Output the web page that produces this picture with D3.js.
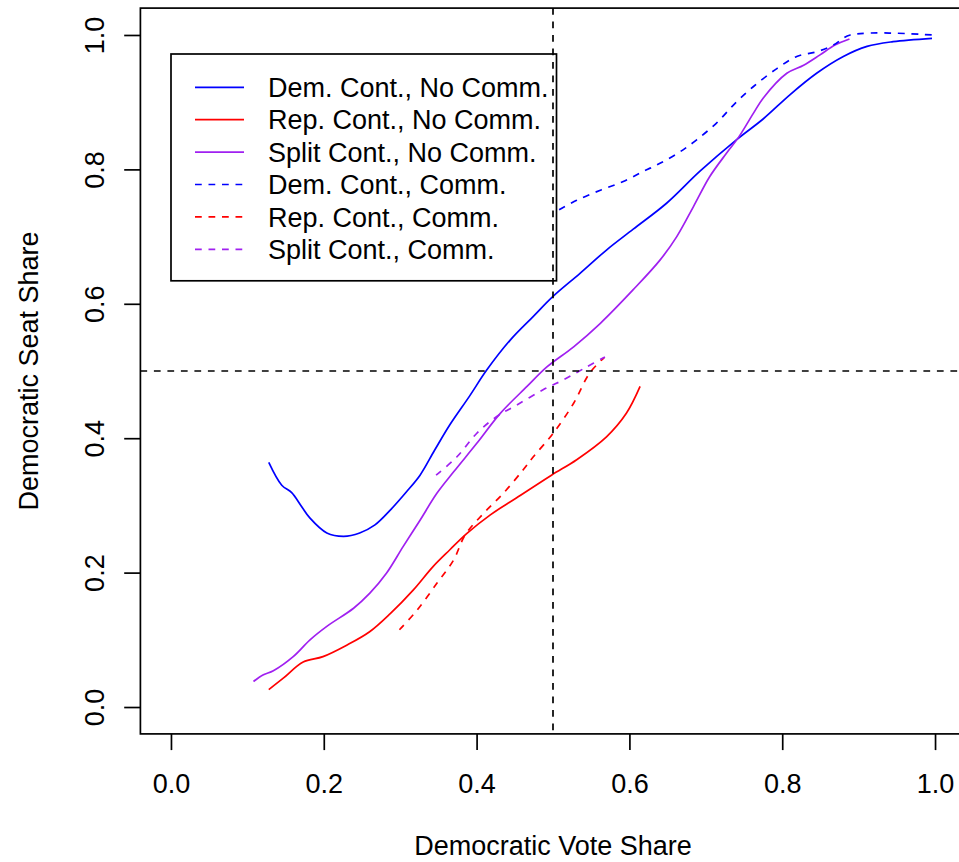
<!DOCTYPE html>
<html>
<head>
<meta charset="utf-8">
<script src="https://cdn.jsdelivr.net/npm/d3@7"></script>
<style>
    body { margin: 0; background: #fff; }
    svg text { font-family: "Liberation Sans", Arial, Helvetica, sans-serif; fill: #000; }
</style>
</head>
<body>
<div class="chart"></div>
<script>
// series data, [vote share, seat share]
const demNoComm = [[0.128,0.364],[0.145,0.330],[0.158,0.319],[0.170,0.300],[0.182,0.281],[0.204,0.259],[0.226,0.254],
    [0.247,0.259],[0.267,0.271],[0.287,0.293],[0.308,0.320],[0.326,0.345],[0.345,0.382],[0.365,0.420],[0.391,0.463],
    [0.413,0.501],[0.444,0.546],[0.474,0.581],[0.500,0.611],[0.535,0.645],[0.570,0.680],[0.605,0.711],[0.649,0.750],
    [0.692,0.797],[0.740,0.844],[0.775,0.875],[0.810,0.911],[0.845,0.943],[0.880,0.968],[0.911,0.983],
    [0.945,0.990],[0.996,0.995]];
const repNoComm = [[0.128,0.026],[0.147,0.043],[0.173,0.067],[0.199,0.075],[0.230,0.092],[0.260,0.112],[0.287,0.139],
    [0.317,0.174],[0.343,0.209],[0.365,0.234],[0.387,0.258],[0.418,0.286],[0.452,0.311],[0.498,0.345],[0.531,0.368],
    [0.570,0.402],[0.596,0.437],[0.614,0.477]];
const splitNoComm = [[0.108,0.038],[0.121,0.048],[0.134,0.054],[0.160,0.075],[0.182,0.100],[0.204,0.120],[0.239,0.147],
    [0.260,0.169],[0.282,0.199],[0.304,0.239],[0.326,0.278],[0.348,0.318],[0.370,0.350],[0.400,0.392],[0.431,0.437],
    [0.466,0.477],[0.492,0.506],[0.527,0.536],[0.562,0.571],[0.605,0.621],[0.640,0.665],[0.662,0.700],[0.684,0.745],
    [0.705,0.789],[0.727,0.824],[0.743,0.848],[0.762,0.883],[0.775,0.906],[0.806,0.943],[0.828,0.955],[0.849,0.970],
    [0.869,0.985],[0.888,0.994]];
const demComm = [[0.508,0.740],[0.531,0.754],[0.562,0.769],[0.592,0.782],[0.618,0.797],[0.640,0.809],[0.666,0.826],
    [0.688,0.844],[0.714,0.869],[0.738,0.898],[0.762,0.923],[0.793,0.950],[0.819,0.968],[0.845,0.975],[0.867,0.985],
    [0.889,1.0],[0.996,1.0]];
const repComm = [[0.299,0.115],[0.322,0.144],[0.348,0.184],[0.370,0.219],[0.385,0.256],[0.409,0.288],[0.435,0.318],
    [0.461,0.353],[0.474,0.372],[0.500,0.407],[0.527,0.452],[0.548,0.497],[0.567,0.520]];
const splitComm = [[0.347,0.345],[0.374,0.372],[0.400,0.407],[0.426,0.432],[0.452,0.449],[0.487,0.472],[0.514,0.487],
    [0.544,0.506],[0.568,0.521]];

const seriesNames = ["Dem. Cont., No Comm.", "Rep. Cont., No Comm.", "Split Cont., No Comm.",
    "Dem. Cont., Comm.", "Rep. Cont., Comm.", "Split Cont., Comm."];
const seriesData = [demNoComm, repNoComm, splitNoComm, demComm, repComm, splitComm];
const tickValues = [0, 0.2, 0.4, 0.6, 0.8, 1.0];
const refX = 0.5, refY = 0.5;

// styles
const colors = ["#0000ff", "#ff0000", "#a020f0", "#0000ff", "#ff0000", "#a020f0"];
const dashed = [false, false, false, true, true, true];
const lw = 1.7;
const dash = "6.75,6.75";

const width = 959, height = 862;
const plot = {left: 140.4, right: 965.6, top: 8.1, bottom: 733.9};

let svg = d3.select(".chart")
    .append("svg")
    .attr("width", width)
    .attr("height", height);

// scales (R style 4% padding on [0,1])
let xScale = d3.scaleLinear().domain([-0.04, 1.04]).range([plot.left, plot.right]);
let yScale = d3.scaleLinear().domain([-0.04, 1.04]).range([plot.bottom, plot.top]);

let line = d3.line()
    .x(d => xScale(d[0]))
    .y(d => yScale(d[1]))
    .curve(d3.curveCatmullRom);

// curves
svg.append("g").selectAll("path")
    .data(seriesData)
    .enter()
    .append("path")
    .attr("d", d => line(d))
    .attr("fill", "none")
    .attr("stroke", (d, i) => colors[i])
    .attr("stroke-width", lw)
    .attr("stroke-dasharray", (d, i) => dashed[i] ? dash : null);

// x axis
let xAxis = svg.append("g")
    .attr("transform", "translate(0," + plot.bottom + ")")
    .call(d3.axisBottom(xScale).tickValues(tickValues).tickFormat(d3.format(".1f")).tickSize(16.2).tickSizeOuter(0));
xAxis.select(".domain").remove();
xAxis.selectAll("line").attr("stroke-width", lw);
xAxis.selectAll("text").attr("y", 59).attr("dy", null).attr("font-size", 27);

// y axis
let yAxis = svg.append("g")
    .attr("transform", "translate(" + plot.left + ",0)")
    .call(d3.axisLeft(yScale).tickValues(tickValues).tickFormat(d3.format(".1f")).tickSize(16.2).tickSizeOuter(0));
yAxis.select(".domain").remove();
yAxis.selectAll("line").attr("stroke-width", lw);
yAxis.selectAll("text")
    .attr("x", null).attr("y", null).attr("dy", null)
    .attr("text-anchor", "middle")
    .attr("font-size", 27)
    .attr("transform", "translate(-36,0) rotate(-90)");

// plot box
svg.append("rect")
    .attr("x", plot.left)
    .attr("y", plot.top)
    .attr("width", plot.right - plot.left)
    .attr("height", plot.bottom - plot.top)
    .attr("fill", "none")
    .attr("stroke", "black")
    .attr("stroke-width", lw);

// axis titles
svg.append("text")
    .attr("x", (plot.left + plot.right) / 2)
    .attr("y", 855)
    .attr("text-anchor", "middle")
    .attr("font-size", 27)
    .text("Democratic Vote Share");

svg.append("text")
    .attr("transform", "translate(38," + (plot.top + plot.bottom) / 2 + ") rotate(-90)")
    .attr("text-anchor", "middle")
    .attr("font-size", 27)
    .text("Democratic Seat Share");

// legend
let legend = svg.append("g");
legend.append("rect")
    .attr("x", 171)
    .attr("y", 54)
    .attr("width", 385.5)
    .attr("height", 226.8)
    .attr("fill", "none")
    .attr("stroke", "black")
    .attr("stroke-width", lw);

let rows = legend.selectAll("g.row")
    .data(seriesNames)
    .enter()
    .append("g")
    .attr("class", "row")
    .attr("transform", (d, i) => "translate(0," + (87.3 + i * 32.4) + ")");
rows.append("line")
    .attr("x1", 195).attr("x2", 244)
    .attr("stroke", (d, i) => colors[i])
    .attr("stroke-width", lw)
    .attr("stroke-dasharray", (d, i) => dashed[i] ? dash : null);
rows.append("text")
    .attr("x", 268)
    .attr("dy", "0.36em")
    .attr("font-size", 27)
    .text(d => d);

// reference lines
svg.append("line")
    .attr("x1", plot.left).attr("x2", plot.right)
    .attr("y1", yScale(refY)).attr("y2", yScale(refY))
    .attr("stroke", "black").attr("stroke-width", lw).attr("stroke-dasharray", dash);
svg.append("line")
    .attr("x1", xScale(refX)).attr("x2", xScale(refX))
    .attr("y1", plot.top).attr("y2", plot.bottom)
    .attr("stroke", "black").attr("stroke-width", lw).attr("stroke-dasharray", dash);
</script>
</body>
</html>
